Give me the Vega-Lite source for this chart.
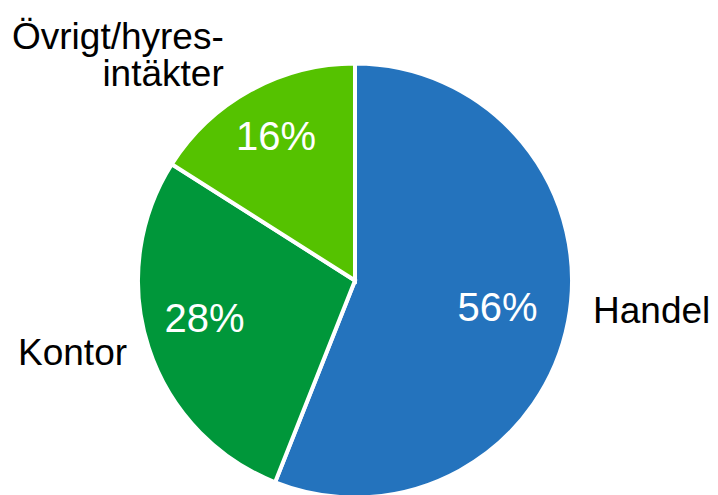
{
  "$schema": "https://vega.github.io/schema/vega-lite/v6.json",
  "width": 710,
  "height": 429,
  "autosize": "none",
  "padding": {"left": 0, "right": 8, "top": 66, "bottom": 0},
  "background": "white",
  "config": {"view": {"stroke": null}, "font": "Liberation Sans"},
  "data": {
    "values": [
      {"category": "Handel", "value": 56, "pct": "56%", "label": "Handel"},
      {"category": "Kontor", "value": 28, "pct": "28%", "label": "Kontor"},
      {"category": "Övrigt/hyresintäkter", "value": 16, "pct": "16%", "label": "Övrigt/hyres-\nintäkter"}
    ]
  },
  "encoding": {
    "theta": {"field": "value", "type": "quantitative", "stack": true},
    "order": {"field": "value", "sort": "descending"}
  },
  "layer": [
    {
      "mark": {"type": "arc", "outerRadius": 217, "stroke": "white", "strokeWidth": 4},
      "encoding": {
        "color": {
          "field": "category",
          "type": "nominal",
          "scale": {"domain": ["Handel", "Kontor", "Övrigt/hyresintäkter"], "range": ["#2473BD", "#00973A", "#55C200"]},
          "legend": null
        }
      }
    },
    {
      "mark": {"type": "text", "radius": 145, "dy": 1, "fontSize": 40, "fill": "white", "align": "center", "baseline": "middle"},
      "encoding": {"text": {"condition": {"test": "datum.category === 'Handel'", "field": "pct"}, "value": ""}}
    },
    {
      "mark": {"type": "text", "radius": 155, "dx": -3, "dy": -8, "fontSize": 40, "fill": "white", "align": "center", "baseline": "middle"},
      "encoding": {"text": {"condition": {"test": "datum.category === 'Kontor'", "field": "pct"}, "value": ""}}
    },
    {
      "mark": {"type": "text", "radius": 164, "dy": 1, "fontSize": 40, "fill": "white", "align": "center", "baseline": "middle"},
      "encoding": {"text": {"condition": {"test": "datum.category === 'Övrigt/hyresintäkter'", "field": "pct"}, "value": ""}}
    },
    {
      "mark": {"type": "text", "radius": 302, "dy": -25, "fontSize": 37, "fill": "black", "align": "center", "baseline": "middle"},
      "encoding": {"text": {"condition": {"test": "datum.category === 'Handel'", "field": "label"}, "value": ""}}
    },
    {
      "mark": {"type": "text", "radius": 297, "dy": -18, "fontSize": 37, "fill": "black", "align": "center", "baseline": "middle"},
      "encoding": {"text": {"condition": {"test": "datum.category === 'Kontor'", "field": "label"}, "value": ""}}
    },
    {
      "mark": {"type": "text", "radius": 260, "dx": -6, "dy": -4, "fontSize": 37, "lineHeight": 37, "lineBreak": "\n", "fill": "black", "align": "right", "baseline": "alphabetic"},
      "encoding": {"text": {"condition": {"test": "datum.category === 'Övrigt/hyresintäkter'", "field": "label"}, "value": ""}}
    }
  ]
}
